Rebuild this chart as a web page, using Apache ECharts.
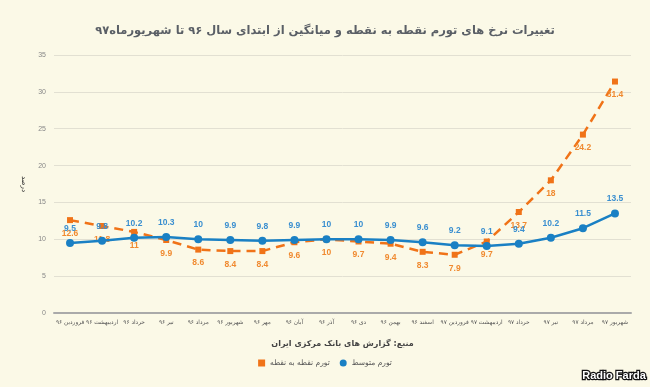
<!DOCTYPE html>
<html><head><meta charset="utf-8">
<script src="https://cdn.jsdelivr.net/npm/echarts@6/dist/echarts.min.js"></script>
<style>html,body{margin:0;padding:0;background:#fbf9e7;}#c{width:650px;height:387px;}</style>
</head><body><div id="c"></div>
<script>
const categories = ['فروردین ۹۶','اردیبهشت ۹۶','خرداد ۹۶','تیر ۹۶','مرداد ۹۶','شهریور ۹۶','مهر ۹۶','آبان ۹۶','آذر ۹۶','دی ۹۶','بهمن ۹۶','اسفند ۹۶','فروردین ۹۷','اردیبهشت ۹۷','خرداد ۹۷','تیر ۹۷','مرداد ۹۷','شهریور ۹۷'];
const avgInflation = [9.5,9.8,10.2,10.3,10,9.9,9.8,9.9,10,10,9.9,9.6,9.2,9.1,9.4,10.2,11.5,13.5];
const p2pInflation = [12.6,11.8,11,9.9,8.6,8.4,8.4,9.6,10,9.7,9.4,8.3,7.9,9.7,13.7,18,24.2,31.4];
const yTicks = {min:0,max:35,step:5};
const titleText = 'تغییرات نرخ های تورم نقطه به نقطه و میانگین از ابتدای سال ۹۶ تا شهریورماه۹۷';
const sourceText = 'منبع: گزارش های بانک مرکزی ایران';
const yName = 'درصد';
const seriesNames = ['تورم نقطه به نقطه','تورم متوسط'];

const chart = echarts.init(document.getElementById('c'));
chart.setOption({
  backgroundColor:'#fbf9e7',
  animation:false,
  title:{text:titleText,left:'center',top:20,textStyle:{fontFamily:'DejaVu Sans',fontSize:11.5,fontWeight:'bold',color:'#5a5f66'}},
  grid:{left:54,right:19,top:55,bottom:74},
  legend:{data:[{name:seriesNames[0],icon:'rect'},{name:seriesNames[1],icon:'circle'}],bottom:15,left:'center',itemWidth:7,itemHeight:7,itemGap:10,textStyle:{fontFamily:'DejaVu Sans',fontSize:7.5,color:'#555'}},
  xAxis:{type:'category',data:categories,
    axisLine:{lineStyle:{color:'#aaa',width:2}},axisTick:{show:false},
    axisLabel:{interval:0,fontSize:5.8,color:'#555',fontFamily:'DejaVu Sans',margin:6},
    name:sourceText,nameLocation:'middle',nameGap:27,nameTextStyle:{fontFamily:'DejaVu Sans',fontSize:8,fontWeight:'bold',color:'#444'}},
  yAxis:{type:'value',min:yTicks.min,max:yTicks.max,interval:yTicks.step,
    axisLine:{show:false},axisTick:{show:false},
    axisLabel:{fontSize:7,color:'#888',fontFamily:'Liberation Sans',margin:8},
    splitLine:{lineStyle:{color:'#e2e0d2',width:1}},
    name:yName,nameLocation:'middle',nameGap:27,nameRotate:-90,nameTextStyle:{fontFamily:'DejaVu Sans',fontSize:7,color:'#333'}},
  series:[
    {name:seriesNames[0],type:'line',data:p2pInflation,color:'#f07318',
      lineStyle:{width:2.5,type:[9,6],color:'#f07318'},symbol:'rect',symbolSize:6,
      label:{show:true,position:'bottom',distance:6,fontSize:8.5,fontWeight:'bold',color:'#f08a30',fontFamily:'Liberation Sans'},z:2},
    {name:seriesNames[1],type:'line',data:avgInflation,color:'#1a80c4',
      lineStyle:{width:2.5,color:'#1a80c4'},symbol:'circle',symbolSize:8,
      label:{show:true,position:'top',distance:6,fontSize:8.5,fontWeight:'bold',color:'#3a8fd0',fontFamily:'Liberation Sans'},z:3}
  ],
  graphic:[{type:'text',right:3,bottom:4,style:{text:'Radio Farda',fontFamily:'Liberation Sans',fontSize:11,fontWeight:'bold',fill:'#fff',stroke:'#111',lineWidth:2.5}}]
});
</script></body></html>
